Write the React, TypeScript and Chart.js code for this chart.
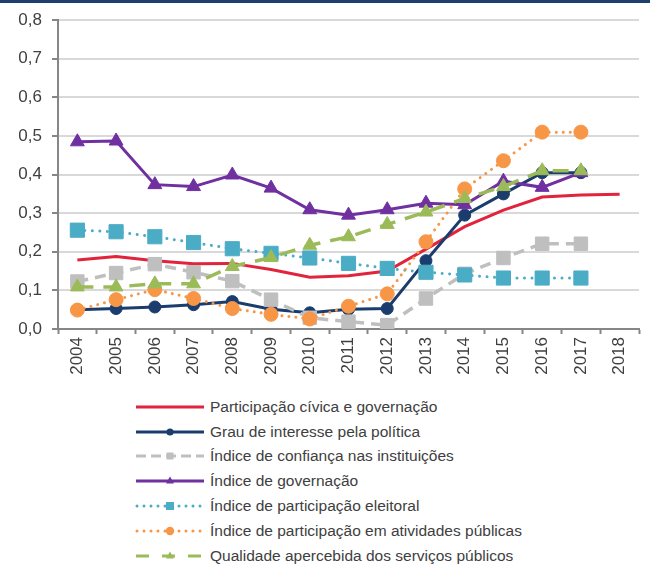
import React, { useEffect, useRef } from 'react';
import { Chart, registerables } from 'chart.js';

Chart.register(...registerables);

const years = ['2004', '2005', '2006', '2007', '2008', '2009', '2010', '2011', '2012', '2013', '2014', '2015', '2016', '2017', '2018'];

const civica = [0.179, 0.188, 0.177, 0.169, 0.170, 0.154, 0.134, 0.138, 0.150, 0.207, 0.265, 0.308, 0.342, 0.347, 0.349];
const interesse = [0.050, 0.053, 0.057, 0.063, 0.071, 0.051, 0.042, 0.051, 0.053, 0.177, 0.295, 0.350, 0.405, 0.405, null];
const confianca = [0.123, 0.145, 0.168, 0.147, 0.124, 0.076, 0.029, 0.019, 0.010, 0.079, 0.143, 0.184, 0.221, 0.221, null];
const governacao = [0.485, 0.487, 0.374, 0.369, 0.399, 0.365, 0.309, 0.295, 0.309, 0.326, 0.322, 0.383, 0.367, 0.405, null];
const eleitoral = [0.256, 0.252, 0.239, 0.224, 0.208, 0.196, 0.184, 0.170, 0.157, 0.147, 0.140, 0.132, 0.132, 0.132, null];
const atividades = [0.049, 0.076, 0.102, 0.079, 0.053, 0.038, 0.026, 0.059, 0.091, 0.226, 0.363, 0.436, 0.510, 0.510, null];
const qualidade = [0.109, 0.109, 0.117, 0.117, 0.162, 0.185, 0.217, 0.239, 0.271, 0.303, 0.338, 0.369, 0.410, 0.410, null];

const seriesNames = [
  'Participação cívica e governação',
  'Grau de interesse pela política',
  'Índice de confiança nas instituições',
  'Índice de governação',
  'Índice de participação eleitoral',
  'Índice de participação em atividades públicas',
  'Qualidade apercebida dos serviços públicos',
];

const C_RED = '#e2233c';
const C_NAVY = '#1a3d6d';
const C_GRAY = '#bfbfbf';
const C_PURPLE = '#7030a0';
const C_TEAL = '#4bacc6';
const C_ORANGE = '#f79646';
const C_GREEN = '#9bbb59';

const FONT = '"Liberation Sans", Arial, sans-serif';

function Swatch({ idx }: { idx: number }) {
  const y = 6;
  const common = { x1: 1, x2: 69, y1: y, y2: y, strokeWidth: 3 } as any;
  let content: any = null;
  if (idx === 0) {
    content = <line {...common} stroke={C_RED} />;
  } else if (idx === 1) {
    content = (
      <>
        <line {...common} stroke={C_NAVY} />
        <circle cx={35} cy={y} r={3.6} fill={C_NAVY} />
      </>
    );
  } else if (idx === 2) {
    content = (
      <>
        <line {...common} stroke={C_GRAY} strokeDasharray="10 5" />
        <rect x={31.5} y={y - 3.5} width={7} height={7} fill={C_GRAY} />
      </>
    );
  } else if (idx === 3) {
    content = (
      <>
        <line {...common} stroke={C_PURPLE} />
        <polygon points={`35,${y - 4.5} 39,${y + 2.5} 31,${y + 2.5}`} fill={C_PURPLE} />
      </>
    );
  } else if (idx === 4) {
    content = (
      <>
        <line x1={2} x2={69} y1={y} y2={y} strokeWidth={3} stroke={C_TEAL} strokeDasharray="0 7" strokeLinecap="round" />
        <rect x={31} y={y - 4} width={8} height={8} fill={C_TEAL} />
      </>
    );
  } else if (idx === 5) {
    content = (
      <>
        <line x1={2} x2={69} y1={y} y2={y} strokeWidth={3} stroke={C_ORANGE} strokeDasharray="0 7" strokeLinecap="round" />
        <circle cx={35} cy={y} r={4.2} fill={C_ORANGE} />
      </>
    );
  } else {
    content = (
      <>
        <line x1={1} x2={69} y1={y} y2={y} strokeWidth={3} stroke={C_GREEN} strokeDasharray="13 13" />
        <polygon points={`35,${y - 4.5} 39,${y + 2.5} 31,${y + 2.5}`} fill={C_GREEN} />
      </>
    );
  }
  return (
    <svg width={70} height={12} style={{ display: 'block' }}>
      {content}
    </svg>
  );
}

export default function App() {
  const ref = useRef<HTMLCanvasElement>(null);

  useEffect(() => {
    const pt = (color: string) => ({
      borderColor: color,
      backgroundColor: color,
      pointBackgroundColor: color,
      pointBorderColor: color,
      pointBorderWidth: 1,
    });
    const chart = new Chart(ref.current!, {
      type: 'line',
      data: {
        labels: years,
        datasets: [
          {
            label: seriesNames[0], data: civica, ...pt(C_RED), borderWidth: 3, pointRadius: 0, order: 7,
          },
          {
            label: seriesNames[1], data: interesse, ...pt(C_NAVY), borderWidth: 3, pointStyle: 'circle', pointRadius: 6, order: 6,
          },
          {
            label: seriesNames[2], data: confianca, ...pt(C_GRAY), borderWidth: 3.5, borderDash: [11, 7], pointStyle: 'rect', pointRadius: 9.5, order: 5,
          },
          {
            label: seriesNames[3], data: governacao, ...pt(C_PURPLE), borderWidth: 3, pointStyle: 'triangle', pointRadius: 8, order: 4,
          },
          {
            label: seriesNames[4], data: eleitoral, ...pt(C_TEAL), borderWidth: 3, borderDash: [0.001, 7.5], borderCapStyle: 'round', pointStyle: 'rect', pointRadius: 10, order: 3,
          },
          {
            label: seriesNames[5], data: atividades, ...pt(C_ORANGE), borderWidth: 3, borderDash: [0.001, 7], borderCapStyle: 'round', pointStyle: 'circle', pointRadius: 7, order: 2,
          },
          {
            label: seriesNames[6], data: qualidade, ...pt(C_GREEN), borderWidth: 3.5, borderDash: [16, 10], pointStyle: 'triangle', pointRadius: 8, order: 1,
          },
        ] as any,
      },
      options: {
        responsive: false,
        animation: false,
        layout: { padding: { top: 16, right: 7, left: 0, bottom: 0 } },
        plugins: { legend: { display: false }, tooltip: { enabled: false } },
        elements: { line: { tension: 0 } },
        scales: {
          x: {
            offset: true,
            grid: {
              offset: true,
              drawOnChartArea: false,
              drawTicks: true,
              tickLength: 5,
              tickColor: '#868686',
              tickWidth: 2,
            } as any,
            border: { color: '#868686', width: 2 },
            ticks: {
              minRotation: 90,
              maxRotation: 90,
              autoSkip: false,
              padding: 3,
              color: '#404040',
              font: { family: FONT, size: 17 },
            },
            afterFit: (s: any) => { s.height = 63; },
          },
          y: {
            min: 0,
            max: 0.8,
            ticks: {
              stepSize: 0.1,
              padding: 10,
              color: '#404040',
              font: { family: FONT, size: 17 },
              callback: (v: any) => Number(v).toFixed(1).replace('.', ','),
            },
            grid: {
              color: '#d9d9d9',
              lineWidth: 2,
              tickColor: '#868686',
              tickLength: 6,
              tickWidth: 2,
            } as any,
            border: { color: '#868686', width: 2 },
            afterFit: (s: any) => { s.width = 58; },
          },
        },
      } as any,
    });
    return () => chart.destroy();
  }, []);

  return (
    <div style={{ position: 'absolute', left: 0, top: 0, width: 650, height: 566, background: '#ffffff', overflow: 'hidden' }}>
      <div style={{ position: 'absolute', left: 0, top: 0, width: 650, height: 3, background: '#1c3f6e' }} />
      <canvas ref={ref} width={650} height={392} style={{ position: 'absolute', left: 0, top: 0, width: 650, height: 392 }} />
      {seriesNames.map((name, i) => {
        const cy = 406.7 + 24.8 * i;
        return (
          <div
            key={name}
            style={{
              position: 'absolute',
              left: 135,
              top: cy - 10,
              height: 20,
              display: 'flex',
              alignItems: 'center',
              whiteSpace: 'nowrap',
              fontFamily: FONT,
              fontSize: 15.5,
              color: '#404040',
            }}
          >
            <Swatch idx={i} />
            <span style={{ marginLeft: 5, lineHeight: '20px' }}>{name}</span>
          </div>
        );
      })}
    </div>
  );
}
